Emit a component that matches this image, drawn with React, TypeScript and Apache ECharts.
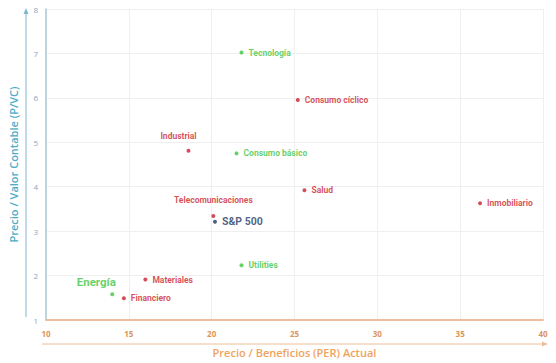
import React, { useEffect, useRef } from "react";
import * as echarts from "echarts";

const sectors = [
  "Tecnología", "Consumo cíclico", "Industrial", "Consumo básico", "Salud",
  "Inmobiliario", "Telecomunicaciones", "S&P 500", "Utilities", "Materiales",
  "Energía", "Financiero",
];
const per = [21.8, 25.2, 18.6, 21.5, 25.6, 36.2, 20.1, 20.2, 21.8, 16.0, 14.0, 14.7];
const pvc = [7.02, 5.95, 4.81, 4.75, 3.92, 3.63, 3.34, 3.21, 2.23, 1.91, 1.58, 1.49];
// g = green, r = red, b = benchmark
const groups = ["g", "r", "r", "g", "r", "r", "r", "b", "g", "r", "g", "r"];

const xTicks = [10, 15, 20, 25, 30, 35, 40];
const yTicks = [1, 2, 3, 4, 5, 6, 7, 8];

const RED = "#CC1F30";
const GREEN = "#3FC43F";
const NAVY = "#1F3A66";
const TEAL = "#4BACC6";
const ORANGE = "#EFA35E";

export default function App() {
  const ref = useRef<HTMLDivElement>(null);
  useEffect(() => {
    const chart = echarts.init(ref.current!, undefined, { renderer: "svg" });
    const font = "'Open Sans', sans-serif";
    const lfont = "Roboto, sans-serif";
    const data = sectors.map((name, i) => {
      const g = groups[i];
      const color = g === "g" ? GREEN : g === "r" ? RED : NAVY;
      let label: any = {
        show: true,
        position: "right",
        distance: 5,
        color,
        fontSize: 8.5,
        fontWeight: "bold",
        fontFamily: lfont,
      };
      if (name === "Industrial") label = { ...label, position: "top", offset: [-10, -3] };
      if (name === "Telecomunicaciones") label = { ...label, position: "top", distance: 10 };
      if (name === "Energía") label = { ...label, position: "top", offset: [-16, 1], fontSize: 11.5 };
      if (name === "S&P 500") label = { ...label, fontSize: 10.5 };
      return {
        name,
        value: [per[i], pvc[i]],
        itemStyle: { color },
        label: { ...label, formatter: name },
      };
    });
    chart.setOption({
      animation: false,
      backgroundColor: "#fff",
      grid: { left: 43, right: 13, top: 9, bottom: 40 },
      xAxis: {
        type: "value",
        min: xTicks[0],
        max: xTicks[xTicks.length - 1],
        interval: 5,
        name: "Precio / Beneficios (PER) Actual",
        nameLocation: "middle",
        nameGap: 27,
        nameTextStyle: { color: ORANGE, fontSize: 11, fontWeight: 600, fontFamily: font },
        axisLine: { show: true, lineStyle: { color: "#EDBE9C", width: 2 } },
        axisTick: { show: false },
        axisLabel: { color: "#D9965A", fontSize: 8, fontWeight: "bold", fontFamily: font, margin: 9 },
        splitLine: { lineStyle: { color: "#EFEFEF" } },
      },
      yAxis: {
        type: "value",
        min: yTicks[0],
        max: yTicks[yTicks.length - 1],
        interval: 1,
        name: "Precio / Valor Contable (P/VC)",
        nameLocation: "middle",
        nameGap: 27,
        nameTextStyle: { color: TEAL, fontSize: 11, fontWeight: 600, fontFamily: font },
        axisLine: { show: true, lineStyle: { color: "#A9C8D6", width: 1.5 } },
        axisTick: { show: false },
        axisLabel: { color: "#8AA7B5", fontSize: 8, fontFamily: font, margin: 8 },
        splitLine: { lineStyle: { color: "#EFEFEF" } },
      },
      series: [
        {
          type: "scatter",
          symbolSize: 4,
          data,
        },
      ],
      graphic: [
        { type: "line", shape: { x1: 26, y1: 317, x2: 26, y2: 12 }, style: { stroke: "#7FB8CC", lineWidth: 1 } },
        { type: "polygon", shape: { points: [[23.5, 14], [28.5, 14], [26, 8]] }, style: { fill: "#7FB8CC" } },
        { type: "line", shape: { x1: 42, y1: 344, x2: 544, y2: 344 }, style: { stroke: "#EDBE9C", lineWidth: 1 } },
        { type: "polygon", shape: { points: [[542, 341.5], [542, 346.5], [548, 344]] }, style: { fill: "#EDBE9C" } },
      ],
    });
    return () => chart.dispose();
  }, []);
  return <div ref={ref} style={{ width: 556, height: 363, position: "absolute", left: 0, top: 0 }} />;
}
